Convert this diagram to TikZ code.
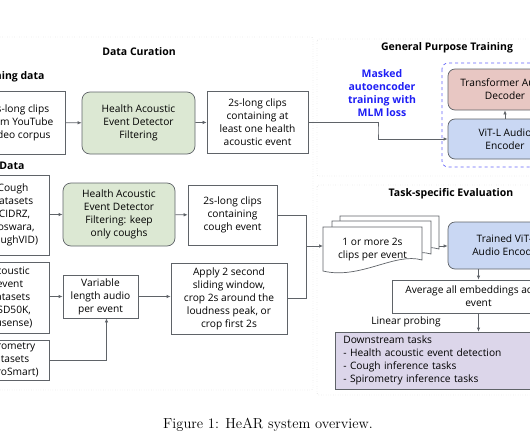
\documentclass[tikz,border=0pt]{standalone}
\usepackage{fontspec}
\setsansfont{Open Sans}
\usetikzlibrary{arrows.meta}

\definecolor{hgreen}{HTML}{DCE8D3}
\definecolor{hblue}{HTML}{C9D7F3}
\definecolor{hred}{HTML}{E8C7C3}
\definecolor{hpurple}{HTML}{DCD6EA}
\definecolor{hline}{HTML}{5F6368}
\definecolor{mlmblue}{HTML}{1F1FF5}

\tikzset{
  box/.style={draw=hline, line width=0.7pt, fill=white, align=center, inner sep=1pt,
    font=\sffamily\fontsize{10.2}{13}\selectfont},
  filterbox/.style={box, fill=hgreen, rounded corners=8pt},
  encbox/.style={box, fill=hblue, rounded corners=7pt},
  decbox/.style={box, fill=hred, rounded corners=7pt},
  taskbox/.style={box, fill=hpurple, align=left, inner xsep=8pt},
  frame/.style={draw=gray!70, dotted, rounded corners=2pt},
  head/.style={font=\sffamily\bfseries\fontsize{10.5}{12}\selectfont},
  plain/.style={font=\sffamily\fontsize{10.2}{13}\selectfont},
  arr/.style={-{Latex[length=4pt,width=3.5pt]}, draw=hline, line width=0.7pt},
  wire/.style={draw=hline, line width=0.7pt},
}

\begin{document}
\begin{tikzpicture}[x=1pt, y=-1pt]

\useasboundingbox (0,0) rectangle (530,442);

\begin{scope}
    \clip (0,0) rectangle (530,442); % visible part only

    % frames
    \draw[frame] (-10,37) rectangle (313,390);  % Data Curation
    \draw[frame] (317,39) rectangle (570,176);  % General Purpose Training
    \draw[frame] (317,185) rectangle (570,395); % Task-specific Evaluation
    \draw[dashed, mlmblue!70, line width=0.7pt, rounded corners=6pt] (442,63) rectangle (575,167);

    \node[head] (curation) at (139,52) {Data Curation};
    \node[head] (general) at (447,48) {General Purpose Training};
    \node[head] (taskeval) at (451,194) {Task-specific Evaluation};
    \node[head, anchor=east] (pretrain) at (48,77) {Pretraining data};
    \node[head, anchor=east] (evaldata) at (28,166) {Eval Data};

    % pretraining row
    \node[box, minimum width=90pt, minimum height=63pt] (yt) at (20,122.5) {2s-long clips\\from YouTube\\video corpus};
    \node[filterbox, minimum width=113pt, minimum height=62pt] (hd1) at (138.5,123) {Health Acoustic\\Event Detector\\Filtering};
    \node[box, minimum width=101pt, minimum height=62pt] (clips1) at (257.5,122) {2s-long clips\\containing at\\least one health\\acoustic event};

    % eval rows
    \node[box, minimum width=72pt, minimum height=80pt] (cough) at (13,215) {Cough\\datasets\\(CIDRZ,\\Coswara,\\CoughVID)};
    \node[filterbox, minimum width=112pt, minimum height=63pt] (hd2) at (119,214.5) {Health Acoustic\\Event Detector\\Filtering: keep\\only coughs};
    \node[box, minimum width=89pt, minimum height=60pt] (clips2) at (232.5,215) {2s-long clips\\containing\\cough event};

    \node[box, minimum width=78pt, minimum height=71pt] (acou) at (10,297.5) {Acoustic\\event\\datasets\\(FSD50K,\\Flusense)};
    \node[box, minimum width=75pt, minimum height=43pt] (var) at (100.5,296.5) {Variable\\length audio\\per event};
    \node[box, minimum width=116pt, minimum height=71pt] (apply) at (229,298.5) {Apply 2 second\\sliding window,\\crop 2s around the\\loudness peak, or\\crop first 2s};

    \node[box, minimum width=80pt, minimum height=40pt] (spiro) at (9,360) {Spirometry\\datasets\\(SpiroSmart)};

    % training
    \node[decbox, minimum width=114pt, minimum height=41pt] (dec) at (505,89.5) {Transformer Audio\\Decoder};
    \node[encbox, minimum width=114pt, minimum height=40pt] (enc) at (505,139) {ViT-L Audio\\Encoder};
    \node[font=\sffamily\bfseries\fontsize{10.5}{13}\selectfont, text=mlmblue, align=center] (mlm) at (382,93.5)
        {Masked\\autoencoder\\training with\\MLM loss};

    % evaluation
    \foreach \dx/\dy in {17/-11, 9/-6, 0/0}
        \draw[wire, fill=white] (323+\dx,227+\dy) -- (422+\dx,227+\dy) -- (422+\dx,260+\dy)
            .. controls (395+\dx,252+\dy) and (360+\dx,280+\dy) .. (323+\dx,271+\dy) -- cycle;
    \node[plain, align=center, minimum width=99pt] (stack) at (372.5,250) {1 or more 2s\\clips per event};
    \coordinate (stackin) at (323,246);
    \coordinate (stackout) at (439,246);

    \node[encbox, minimum width=118pt, minimum height=47pt] (trained) at (507,245.5) {Trained ViT-L\\Audio Encoder};
    \node[box, minimum width=173pt, minimum height=33pt] (avg) at (478.5,296.5) {Average all embeddings across\\event};
    \node[taskbox, anchor=west, text width=270pt, minimum height=57pt] (down) at (335,360.5)
        {Downstream tasks\\- Health acoustic event detection\\- Cough inference tasks\\- Spirometry inference tasks};
    \node[plain] (probe) at (406,322) {Linear probing};

    % connectors
    \draw[arr] (yt) -- (hd1);
    \draw[arr] (hd1) -- (clips1);
    \coordinate (bend) at (378,130);
    \draw[arr] (clips1.east) -| (bend) |- (enc.west);
    \draw[arr] (enc) -- (dec);

    \draw[arr] (cough.east |- hd2) -- (hd2);
    \draw[arr] (hd2) -- (clips2);
    \draw[arr] (acou.east |- var) -- (var);
    \draw[arr] (spiro.east) -| ([xshift=6pt]var.south);
    \draw[arr] (var) -- (apply.west |- var);

    \coordinate (merge) at (306,246);
    \draw[wire] (clips2.east) -| (merge);
    \draw[wire] (apply.east) -| (merge);
    \draw[arr] (merge) -- (stackin);
    \draw[arr] (stackout) -- (trained.west |- stackout);
    \draw[arr] (trained.south -| avg.north) -- (avg.north);
    \draw[arr] (avg.south) -- (avg.south |- down.north);
\end{scope}

\node[font=\fontsize{14.5}{17}\selectfont] (caption) at (268,425) {Figure 1: HeAR system overview.};

\end{tikzpicture}
\end{document}
